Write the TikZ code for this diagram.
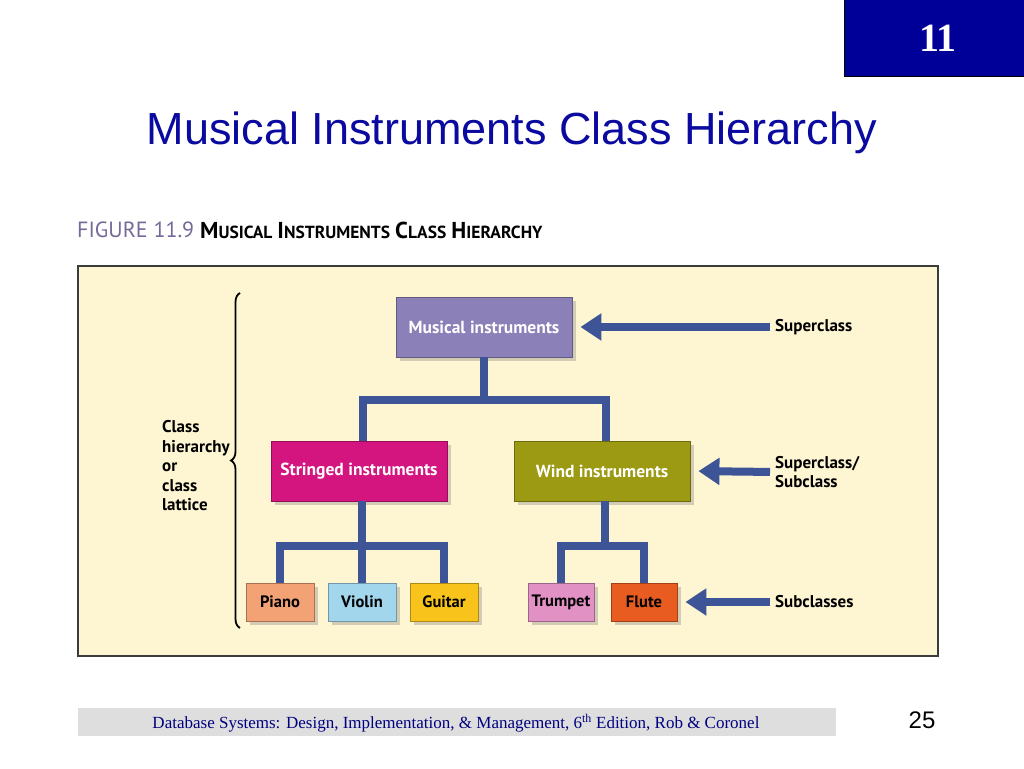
\documentclass[tikz,border=0pt]{standalone}
\usepackage{fontspec}
\usepackage{tikz}
\usetikzlibrary{arrows.meta,shadows,decorations.pathreplacing}
\setmainfont{Liberation Serif}
\newfontfamily\figfont{PT Sans}
\newfontfamily\arialfont{Liberation Sans}
\definecolor{tabnavy}{RGB}{0,0,153}
\definecolor{titleblue}{RGB}{10,10,160}
\definecolor{panelfill}{RGB}{254,246,210}
\definecolor{panelline}{RGB}{60,60,60}
\definecolor{linkblue}{RGB}{61,84,150}
\definecolor{figpurple}{RGB}{118,105,154}
\definecolor{musicfill}{RGB}{139,128,184}
\definecolor{stringfill}{RGB}{212,21,127}
\definecolor{windfill}{RGB}{156,154,18}
\definecolor{pianofill}{RGB}{242,162,117}
\definecolor{violinfill}{RGB}{162,214,236}
\definecolor{guitarfill}{RGB}{248,196,28}
\definecolor{trumpetfill}{RGB}{225,145,195}
\definecolor{flutefill}{RGB}{232,92,34}
\definecolor{footgray}{RGB}{222,222,222}
\definecolor{footblue}{RGB}{0,0,128}
\newcommand{\smallcapword}[2]{{\fontsize{23}{26}\selectfont #1}{\fontsize{17.5}{26}\selectfont #2}}

\begin{document}
\begin{tikzpicture}[x=1pt, y=-1pt,
        box/.style={draw=#1!70!black, fill=#1, line width=0.8pt, text=white,
            font=\figfont\bfseries\fontsize{17.5}{20}\selectfont,
            minimum width=176pt, minimum height=60pt,
            drop shadow={shadow xshift=4pt, shadow yshift=-4pt, opacity=0.35}},
        leaf/.style={box=#1, text=black, font=\figfont\bfseries\fontsize{16.5}{19}\selectfont,
            minimum width=68pt, minimum height=38pt},
        link/.style={draw=linkblue, line width=8pt},
        pointer/.style={link, -{Triangle[length=21pt, width=26pt]}, shorten <=5pt, shorten >=8pt},
        note/.style={font=\figfont\bfseries\fontsize{17}{19.5}\selectfont, align=left, anchor=west, inner sep=0pt}]
        \useasboundingbox (0,0) rectangle (1024,768);
        \fill[white] (0,0) rectangle (1024,768);

        \filldraw[fill=tabnavy, draw=black, line width=1pt] (844,-2) rectangle (1026,76);
        \node[text=white, font=\bfseries\fontsize{40}{44}\selectfont] (chapter) at (938,38) {11};
        \node[text=titleblue, font=\arialfont\fontsize{45}{52}\selectfont] (title) at (512,133) {Musical Instruments Class Hierarchy};

        \node[anchor=west, inner sep=0pt, text=figpurple, font=\figfont\fontsize{22}{26}\selectfont] (fignum) at (77,230) {FIGURE 11.9};
        \node[anchor=west, inner sep=0pt, font=\figfont\bfseries\fontsize{20}{26}\selectfont] (figname) at (200,230)
            {\smallcapword{M}{USICAL} \smallcapword{I}{NSTRUMENTS} \smallcapword{C}{LASS} \smallcapword{H}{IERARCHY}};

        \draw[draw=panelline, fill=panelfill, line width=2.5pt] (78,266) rectangle (938,656);

        \node[box=musicfill] (musical) at (484,327) {Musical instruments};
        \node[box=stringfill] (stringed) at (359,471) {Stringed instruments};
        \node[box=windfill] (wind) at (602,471) {Wind instruments};
        \node[leaf=pianofill] (piano) at (280,602) {Piano};
        \node[leaf=violinfill] (violin) at (362,602) {Violin};
        \node[leaf=guitarfill] (guitar) at (444,602) {Guitar};
        \node[leaf=trumpetfill, minimum width=66pt] (trumpet) at (561,602) {Trumpet};
        \node[leaf=flutefill, minimum width=66pt] (flute) at (644,602) {Flute};

        \coordinate (topjoin) at (484,400);
        \coordinate (stringjoin) at (362,546);
        \coordinate (windjoin) at (605,546);
        \draw[link] (musical.south) -- (topjoin);
        \draw[link] ([xshift=4pt]stringed.north) |- (topjoin) -| ([xshift=4pt]wind.north);
        \draw[link] (stringed.south -| violin.north) -- (violin.north);
        \draw[link] (piano.north) |- (stringjoin) -| (guitar.north);
        \draw[link] (wind.south -| windjoin) -- (windjoin);
        \draw[link] (trumpet.north) |- (windjoin) -| (flute.north);

        \node[note] (superlbl) at (775,327) {Superclass};
        \node[note] (bothlbl) at (775,472) {Superclass/\\Subclass};
        \node[note] (sublbl) at (775,602) {Subclasses};
        \draw[pointer] (superlbl.west) -- (musical.east);
        \draw[pointer] (bothlbl.west) -- (wind.east);
        \draw[pointer] (sublbl.west) -- (flute.east);

        \node[note] (lattice) at (162,466) {Class\\hierarchy\\or\\class\\lattice};
        \coordinate (bracelow) at (240,628);
        \coordinate (bracehigh) at (240,293);
        \draw[decorate, decoration={brace, amplitude=9pt}, line width=1.8pt] (bracelow) -- (bracehigh);

        \fill[footgray] (78,708) rectangle (836,736);
        \node[text=footblue, font=\fontsize{17}{20}\selectfont] (credit) at (456,723)
            {Database Systems: Design, Implementation, \& Management, 6\textsuperscript{th} Edition, Rob \& Coronel};
        \node[font=\arialfont\fontsize{24}{28}\selectfont] (pagenum) at (922,720) {25};
    \end{tikzpicture}
\end{document}
